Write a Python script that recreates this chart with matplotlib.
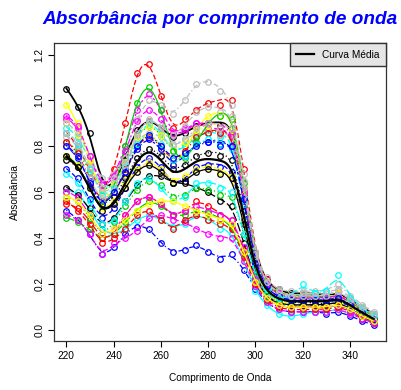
import numpy as np
import matplotlib
matplotlib.use("Agg")
import matplotlib.pyplot as plt

plt.rcParams['font.family'] = ['Liberation Sans', 'DejaVu Sans']

# wavelengths (nm)
wavelength = np.arange(220, 351, 5)

# absorbance spectra, one list per sample (220 ... 350 nm)
s00 = [1.05, 0.97, 0.86, 0.64, 0.64, 0.76, 0.87, 0.91, 0.88, 0.84, 0.86, 0.89, 0.90, 0.89, 0.88, 0.62, 0.33, 0.22, 0.18, 0.16, 0.16, 0.16, 0.15, 0.16, 0.13, 0.10, 0.07]
s01 = [0.86, 0.80, 0.70, 0.62, 0.70, 0.90, 1.12, 1.16, 1.02, 0.88, 0.92, 0.96, 0.99, 0.98, 1.00, 0.70, 0.34, 0.22, 0.17, 0.15, 0.15, 0.14, 0.14, 0.15, 0.12, 0.09, 0.06]
s02 = [0.82, 0.78, 0.69, 0.61, 0.64, 0.73, 0.84, 0.89, 0.85, 0.78, 0.80, 0.85, 0.86, 0.85, 0.84, 0.57, 0.29, 0.19, 0.15, 0.13, 0.13, 0.13, 0.12, 0.13, 0.11, 0.08, 0.05]
s03 = [0.52, 0.48, 0.42, 0.33, 0.36, 0.42, 0.45, 0.44, 0.38, 0.34, 0.35, 0.37, 0.34, 0.31, 0.33, 0.26, 0.18, 0.12, 0.09, 0.08, 0.08, 0.08, 0.07, 0.08, 0.06, 0.04, 0.02]
s04 = [0.88, 0.84, 0.74, 0.62, 0.64, 0.72, 0.84, 0.90, 0.86, 0.78, 0.80, 0.84, 0.86, 0.84, 0.82, 0.58, 0.30, 0.20, 0.16, 0.14, 0.14, 0.14, 0.14, 0.15, 0.12, 0.09, 0.06]
s05 = [0.92, 0.88, 0.76, 0.64, 0.68, 0.80, 0.96, 1.03, 0.96, 0.86, 0.88, 0.90, 0.88, 0.86, 0.85, 0.60, 0.31, 0.21, 0.17, 0.15, 0.15, 0.15, 0.14, 0.15, 0.13, 0.09, 0.06]
s06 = [0.98, 0.90, 0.74, 0.60, 0.60, 0.68, 0.80, 0.86, 0.80, 0.72, 0.78, 0.88, 0.93, 0.93, 0.92, 0.62, 0.32, 0.21, 0.17, 0.15, 0.15, 0.15, 0.14, 0.15, 0.12, 0.09, 0.06]
s07 = [0.84, 0.80, 0.70, 0.60, 0.63, 0.72, 0.82, 0.86, 0.84, 0.80, 0.83, 0.86, 0.87, 0.85, 0.84, 0.60, 0.32, 0.21, 0.17, 0.15, 0.16, 0.16, 0.16, 0.18, 0.14, 0.10, 0.07]
s08 = [0.74, 0.71, 0.63, 0.55, 0.58, 0.66, 0.75, 0.79, 0.76, 0.70, 0.72, 0.76, 0.77, 0.76, 0.74, 0.52, 0.27, 0.18, 0.14, 0.12, 0.12, 0.12, 0.11, 0.12, 0.10, 0.07, 0.04]
s09 = [0.82, 0.77, 0.66, 0.56, 0.60, 0.70, 0.80, 0.84, 0.80, 0.74, 0.78, 0.84, 0.86, 0.86, 0.84, 0.60, 0.31, 0.21, 0.16, 0.14, 0.14, 0.14, 0.13, 0.15, 0.12, 0.08, 0.05]
s10 = [0.49, 0.47, 0.44, 0.40, 0.42, 0.47, 0.52, 0.56, 0.54, 0.50, 0.50, 0.52, 0.51, 0.48, 0.45, 0.33, 0.21, 0.14, 0.11, 0.10, 0.10, 0.10, 0.10, 0.11, 0.09, 0.06, 0.03]
s11 = [0.80, 0.75, 0.65, 0.55, 0.60, 0.69, 0.79, 0.83, 0.79, 0.72, 0.76, 0.81, 0.82, 0.81, 0.80, 0.56, 0.29, 0.19, 0.15, 0.13, 0.13, 0.13, 0.12, 0.13, 0.10, 0.07, 0.04]
s12 = [0.60, 0.60, 0.52, 0.44, 0.42, 0.44, 0.48, 0.50, 0.48, 0.45, 0.46, 0.50, 0.48, 0.44, 0.42, 0.30, 0.17, 0.11, 0.07, 0.06, 0.07, 0.08, 0.08, 0.09, 0.07, 0.05, 0.03]
s13 = [0.50, 0.48, 0.42, 0.33, 0.38, 0.40, 0.43, 0.49, 0.50, 0.48, 0.47, 0.44, 0.42, 0.40, 0.40, 0.30, 0.19, 0.12, 0.09, 0.08, 0.08, 0.08, 0.08, 0.09, 0.07, 0.05, 0.03]
s14 = [0.90, 0.85, 0.73, 0.62, 0.64, 0.73, 0.84, 0.89, 0.85, 0.78, 0.82, 0.87, 0.89, 0.88, 0.87, 0.60, 0.30, 0.20, 0.16, 0.14, 0.14, 0.14, 0.14, 0.16, 0.12, 0.09, 0.06]
s15 = [0.90, 0.86, 0.76, 0.66, 0.68, 0.78, 0.92, 1.00, 0.98, 0.94, 1.00, 1.07, 1.08, 1.04, 0.98, 0.68, 0.34, 0.23, 0.18, 0.17, 0.17, 0.17, 0.17, 0.20, 0.15, 0.11, 0.08]
s16 = [0.62, 0.59, 0.53, 0.46, 0.49, 0.56, 0.63, 0.67, 0.67, 0.64, 0.64, 0.62, 0.60, 0.56, 0.54, 0.38, 0.22, 0.15, 0.12, 0.11, 0.11, 0.11, 0.10, 0.11, 0.09, 0.06, 0.04]
s17 = [0.55, 0.53, 0.48, 0.40, 0.42, 0.50, 0.56, 0.58, 0.55, 0.50, 0.52, 0.56, 0.54, 0.50, 0.48, 0.35, 0.22, 0.14, 0.11, 0.10, 0.10, 0.10, 0.10, 0.11, 0.09, 0.06, 0.03]
s18 = [0.76, 0.72, 0.62, 0.54, 0.62, 0.80, 0.99, 1.06, 0.96, 0.78, 0.75, 0.82, 0.90, 0.93, 0.92, 0.64, 0.32, 0.21, 0.17, 0.15, 0.15, 0.15, 0.14, 0.15, 0.12, 0.09, 0.06]
s19 = [0.70, 0.66, 0.57, 0.49, 0.53, 0.62, 0.71, 0.75, 0.71, 0.64, 0.66, 0.71, 0.72, 0.71, 0.69, 0.48, 0.25, 0.16, 0.13, 0.11, 0.11, 0.11, 0.11, 0.12, 0.09, 0.06, 0.04]
s20 = [0.86, 0.81, 0.70, 0.59, 0.62, 0.71, 0.81, 0.85, 0.81, 0.74, 0.76, 0.81, 0.83, 0.81, 0.79, 0.55, 0.28, 0.18, 0.14, 0.12, 0.13, 0.13, 0.13, 0.15, 0.11, 0.08, 0.05]
s21 = [0.93, 0.89, 0.76, 0.63, 0.67, 0.78, 0.91, 0.96, 0.92, 0.85, 0.87, 0.90, 0.90, 0.88, 0.86, 0.60, 0.31, 0.20, 0.16, 0.14, 0.14, 0.14, 0.14, 0.15, 0.12, 0.08, 0.05]
s22 = [0.76, 0.72, 0.62, 0.53, 0.56, 0.63, 0.70, 0.73, 0.70, 0.65, 0.67, 0.70, 0.71, 0.69, 0.67, 0.47, 0.25, 0.16, 0.13, 0.11, 0.11, 0.11, 0.11, 0.12, 0.10, 0.07, 0.04]
s23 = [0.80, 0.76, 0.66, 0.57, 0.61, 0.72, 0.85, 0.92, 0.88, 0.81, 0.83, 0.88, 0.90, 0.88, 0.88, 0.62, 0.32, 0.21, 0.17, 0.15, 0.16, 0.16, 0.15, 0.17, 0.13, 0.09, 0.06]
s24 = [0.76, 0.71, 0.62, 0.52, 0.55, 0.62, 0.69, 0.72, 0.69, 0.64, 0.65, 0.69, 0.70, 0.68, 0.66, 0.46, 0.24, 0.15, 0.12, 0.11, 0.11, 0.11, 0.11, 0.12, 0.09, 0.06, 0.04]
s25 = [0.56, 0.52, 0.46, 0.38, 0.40, 0.44, 0.50, 0.52, 0.48, 0.44, 0.48, 0.50, 0.48, 0.46, 0.44, 0.32, 0.20, 0.13, 0.10, 0.09, 0.09, 0.09, 0.09, 0.10, 0.08, 0.05, 0.03]
s26 = [0.58, 0.56, 0.49, 0.42, 0.47, 0.54, 0.61, 0.65, 0.63, 0.58, 0.59, 0.62, 0.61, 0.59, 0.58, 0.42, 0.23, 0.15, 0.12, 0.10, 0.10, 0.10, 0.10, 0.11, 0.09, 0.06, 0.04]
s27 = [0.80, 0.76, 0.64, 0.55, 0.60, 0.69, 0.80, 0.85, 0.80, 0.75, 0.77, 0.80, 0.82, 0.80, 0.80, 0.57, 0.29, 0.19, 0.15, 0.13, 0.13, 0.13, 0.13, 0.14, 0.11, 0.08, 0.05]
s28 = [0.68, 0.64, 0.56, 0.46, 0.48, 0.56, 0.64, 0.66, 0.62, 0.56, 0.58, 0.64, 0.64, 0.62, 0.60, 0.42, 0.24, 0.16, 0.14, 0.15, 0.20, 0.16, 0.17, 0.24, 0.14, 0.10, 0.06]
s29 = [0.60, 0.58, 0.50, 0.42, 0.44, 0.50, 0.56, 0.58, 0.55, 0.50, 0.52, 0.54, 0.52, 0.50, 0.48, 0.36, 0.22, 0.14, 0.11, 0.10, 0.10, 0.10, 0.10, 0.11, 0.08, 0.05, 0.03]
s30 = [0.58, 0.56, 0.50, 0.42, 0.44, 0.48, 0.52, 0.55, 0.56, 0.56, 0.54, 0.52, 0.50, 0.48, 0.46, 0.34, 0.21, 0.14, 0.11, 0.10, 0.10, 0.10, 0.10, 0.11, 0.09, 0.06, 0.04]
s31 = [0.86, 0.82, 0.71, 0.62, 0.66, 0.75, 0.86, 0.91, 0.89, 0.85, 0.89, 0.95, 0.97, 0.95, 0.93, 0.65, 0.33, 0.21, 0.17, 0.15, 0.15, 0.15, 0.15, 0.17, 0.13, 0.10, 0.07]

spectra = [s00, s01, s02, s03, s04, s05, s06, s07, s08, s09, s10, s11, s12, s13, s14, s15,
           s16, s17, s18, s19, s20, s21, s22, s23, s24, s25, s26, s27, s28, s29, s30, s31]

# R-like palette and line types
cores = ['black', 'red', '#00CD00', 'blue', 'cyan', 'magenta', 'yellow', '#BEBEBE']
tipos = ['-', (0, (4, 2)), (0, (1, 2)), (0, (1, 2, 4, 2)), (0, (7, 2)), (0, (2, 2, 6, 2))]

# fine grid + penalised smoother (like a smoothing spline)
xf = np.arange(220, 350.01, 0.5)
n = len(xf)
B = np.zeros((len(wavelength), n))
for k, w in enumerate(wavelength):
    B[k, np.argmin(np.abs(xf - w))] = 1.0
D = np.diff(np.eye(n), 2, axis=0)
lam = 60.0
A = B.T @ B + lam * D.T @ D

def suaviza(y):
    return np.linalg.solve(A, B.T @ np.asarray(y))

fig = plt.figure(figsize=(4.01, 3.90), dpi=100)
ax = fig.add_axes([0.1347, 0.1256, 0.8279, 0.7629])

for i, y in enumerate(spectra):
    c = cores[i % 8]
    ax.plot(wavelength, y, 'o', mfc='none', mec=c, ms=4, mew=0.9)
    ax.plot(xf, suaviza(y), color=c, ls=tipos[i % 6], lw=1.3 if i == 0 else 0.9)

media = np.mean(np.array(spectra), axis=0)
ax.plot(xf, suaviza(media), color='black', lw=1.6, label='Curva Média')

ax.set_xlim(214.8, 355.2)
ax.set_ylim(-0.048, 1.248)
ax.set_xticks([220, 240, 260, 280, 300, 320, 340])
ax.set_yticks([0.0, 0.2, 0.4, 0.6, 0.8, 1.0, 1.2])
ax.set_yticklabels(['0.0', '0.2', '0.4', '0.6', '0.8', '1.0', '1.2'], rotation=90, va='center')
ax.tick_params(labelsize=7.3, length=4, width=0.8, pad=3)
for sp in ax.spines.values():
    sp.set_color('#333333')
    sp.set_linewidth(0.9)

ax.set_xlabel('Comprimento de Onda', fontsize=7.3, labelpad=9)
ax.set_ylabel('Absorbância', fontsize=7.3, labelpad=10)

leg = ax.legend(loc='upper right', fontsize=7.3, frameon=True, fancybox=False,
                borderaxespad=0, handlelength=1.8, borderpad=0.6)
leg.get_frame().set_facecolor('#e5e5e5')
leg.get_frame().set_edgecolor('#333333')
leg.get_frame().set_alpha(1)

fig.text(0.549, 0.949, 'Absorbância por comprimento de onda', color='blue',
         fontsize=13.7, fontweight='bold', fontstyle='italic', ha='center', va='center')

fig.savefig('out.png', dpi=100)
